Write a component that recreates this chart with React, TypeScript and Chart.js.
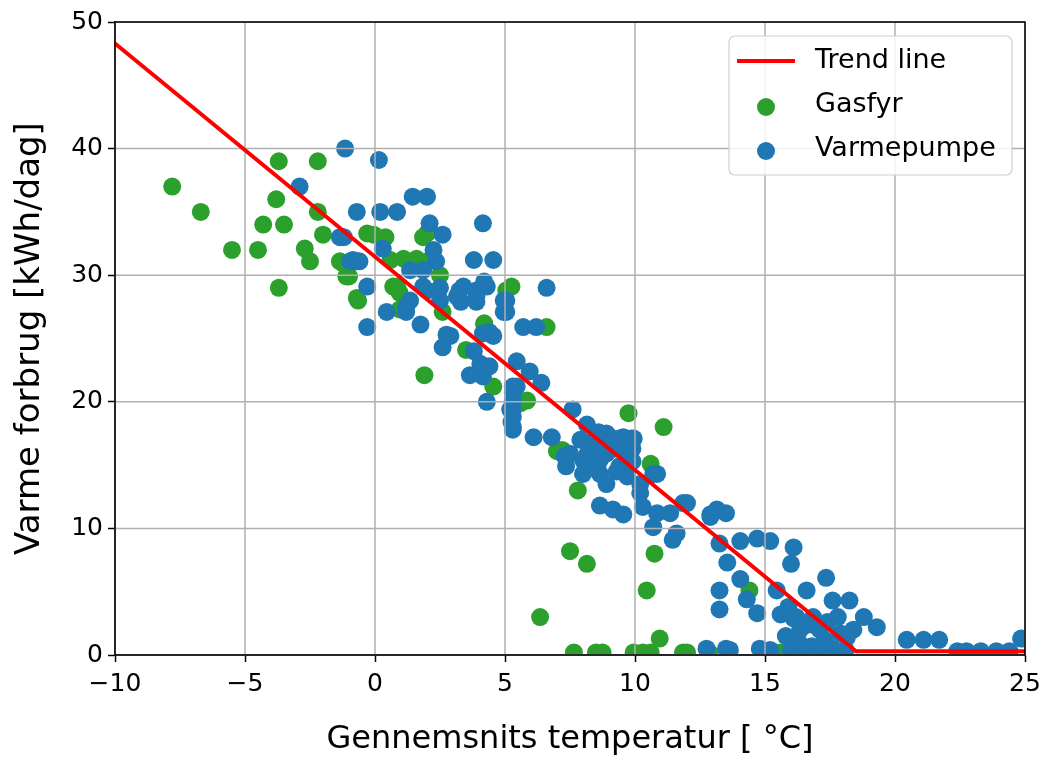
import { useEffect, useRef } from 'react';
import { Chart, registerables } from 'chart.js';

Chart.register(...registerables);

const FONT = "'DejaVu Sans', sans-serif";

const xTicks = [-10, -5, 0, 5, 10, 15, 20, 25];
const yTicks = [0, 10, 20, 30, 40, 50];
const legendLabels = ['Trend line', 'Gasfyr', 'Varmepumpe'];
const xTitle = 'Gennemsnits temperatur [ °C]';
const yTitle = 'Varme forbrug [kWh/dag]';

const trendTemp = [-10, 18.5, 25];
const trendUsage = [48.3, 0.3, 0.3];

const gasfyrTemp = [
  -7.8, -6.7, -5.5, -4.5, -4.3, -3.5, -3.8, -3.7, -2.2, -3.7, -2.7, -2.5, -2.2, -2.0, -1.2, -1.0,
  -0.65, -0.05, -0.3, 0.4, 0.85, 0.95, -1.35, 0.6, 1.1, 1.6, 2.1, 0.7, 0.95, -0.7, 2.6, 4.2,
  5.05, -1.1, 2.0, 1.85, 5.25, 4.2, 3.5, 4.55, 5.6, 5.85, 11.1, 9.75, 7.0, 1.9, 10.6, 7.8,
  7.2, 10.75, 7.5, 8.15, 10.45, 6.35, 10.95, 6.6, 14.4, 2.5,
  7.65, 8.5, 8.75, 9.95, 10.3, 11.85, 12.85, 12.0, 15.6, 10.6,
];
const gasfyrUsage = [
  37, 35, 32, 32, 34, 34, 36, 39, 39, 29, 32.1, 31.1, 35, 33.2, 30.9, 29.9,
  28, 33.2, 33.3, 33, 29.1, 27.3, 31.1, 31.2, 31.3, 31.3, 31.2, 29.1, 28.6, 28.2, 27.1, 26.1,
  28.8, 29.9, 33.3, 33, 29.1, 26.2, 24.1, 21.2, 19.9, 20.1, 18, 19.1, 16.1, 22.1, 15.1, 13,
  16.2, 8, 8.2, 7.2, 5.1, 3.0, 1.3, 25.9, 5.1, 30,
  0.2, 0.2, 0.2, 0.2, 0.2, 0.2, 0.2, 0.2, 0.2, 0.2,
];

const varmepumpeTemp = [
  -1.15, 0.15, -2.9, -0.7, 0.2, 0.85, 1.45, 2.0, 2.1, 2.6, 4.15, -1.35, 0.3, -0.85, 2.25, 2.35,
  3.8, 4.55, 1.35, 1.85, -0.3, 3.4, 4.3, 2.0, 1.35, 2.5, 3.15, 3.9, 0.45, 1.2, -0.3, 1.75,
  2.75, 4.4, 4.95, -1.2, -0.7, -0.95, -0.6, 1.2, 1.85, 2.5, 3.25, 3.9, 4.95, 6.6, 3.3, 3.9,
  5.05, 5.05, 5.7, 6.2, 4.15, 4.55, 2.9, 2.6, 3.8, 4.05, 4.4, 5.45, 5.95, 6.4, 3.65, 4.15,
  5.45, 4.3, 5.3, 5.25, 5.3, 5.3, 5.3, 6.1, 6.8, 7.6, 8.15, 9.05, 9.55, 9.85, 8.9, 9.4,
  7.5, 8.15, 8.9, 9.7, 7.35, 8.0, 8.65, 9.4, 9.7, 10.2, 10.7, 10.85, 8.9, 8.65, 9.15, 9.55,
  10.2, 10.3, 10.85, 11.35, 11.85, 10.7, 11.6, 11.45, 12.9, 13.15, 13.5, 14.05, 14.7, 15.2, 16.1, 16.0,
  13.55, 14.05, 13.25, 13.25, 14.3, 14.7, 15.6, 16.1, 13.65, 15.2, 12.0, 12.9, 13.25, 17.35, 16.6, 15.45,
  16.2, 16.85, 17.6, 18.25, 16.35, 17.1, 17.9, 18.4, 12.75, 13.5, 14.8, 18.8, 19.3, 18.15, 20.45, 21.1,
  21.7, 22.4, 22.75, 23.3, 23.9, 24.4, 24.85, 7.3, 8.0, 8.65, 5.3, 5.3, 5.2, 5.3, 9.95,
  8.5, 9.2, 9.6, 8.3, 9.9, 9.9, 9.3, 8.4, 7.9, 8.6,
  15.8, 16.3, 16.8, 17.3, 17.6, 18.1, 16.0, 16.5, 17.0, 17.4, 15.9, 16.7, 17.8, 4.2,
];
const varmepumpeUsage = [
  40, 39.1, 37, 35, 35, 35, 36.2, 36.2, 34.1, 33.2, 34.1, 33, 32.1, 31.2, 32, 31.1,
  31.2, 31.2, 30.4, 30.4, 29.1, 29.1, 29.1, 28.8, 28, 28, 28.3, 28.3, 27.1, 27.1, 25.9, 26.1,
  25.3, 25.5, 28, 33, 31.1, 31.1, 31.1, 27.5, 29.1, 29, 28.8, 28.8, 27.1, 29, 27.9, 27.9,
  28, 27.1, 25.9, 25.9, 25.4, 25.2, 25.2, 24.3, 24, 23, 22.8, 23.2, 22.4, 21.5, 22.1, 22,
  21.2, 20, 19.4, 18.4, 17.8, 21.2, 20.1, 17.2, 17.2, 19.4, 18.2, 17.2, 17.2, 17.1, 17.5, 17.1,
  15.9, 15.8, 15.9, 15.9, 14.9, 14.3, 14.3, 14.9, 14.1, 13.5, 14.3, 14.3, 13.5, 11.8, 11.5, 11.1,
  12.8, 11.7, 11.2, 11.2, 12, 10.1, 9.6, 9.1, 10.9, 11.5, 11.2, 9, 9.2, 9, 8.5, 7.2,
  7.3, 6.0, 5.1, 3.6, 4.4, 3.3, 3.2, 2.9, 0.4, 0.4, 12, 11.1, 8.8, 6.1, 5.1, 5.1,
  3.0, 3.0, 4.3, 4.3, 2.0, 2.0, 1.7, 2.0, 0.5, 0.5, 0.5, 3, 2.2, 1.4, 1.2, 1.2,
  1.2, 0.3, 0.3, 0.3, 0.3, 0.3, 1.3, 15.7, 15.4, 15.4, 18.8, 18.0, 19.4, 20.7, 17.1,
  16.5, 16.3, 16.5, 16.8, 16.3, 15.3, 14.5, 15, 17, 17.6,
  1.5, 1.0, 0.7, 1.2, 0.5, 0.4, 0.4, 0.3, 0.3, 2.6, 3.8, 2.4, 3.0, 29.5,
];

const GREEN = '#2ca02c';
const BLUE = '#1f77b4';
const RED = '#ff0000';

function toPoints(xs: number[], ys: number[]) {
  return xs.map((x, i) => ({ x, y: ys[i] }));
}

const gridPlugin = {
  id: 'mplGrid',
  afterDatasetDraw(chart: any, args: any) {
    if (args.index !== 1) return;
    const { ctx, chartArea, scales } = chart;
    ctx.save();
    ctx.strokeStyle = '#b0b0b0';
    ctx.lineWidth = 1.5;
    ctx.beginPath();
    xTicks.forEach((v) => {
      const px = scales.x.getPixelForValue(v);
      ctx.moveTo(px, chartArea.top);
      ctx.lineTo(px, chartArea.bottom);
    });
    yTicks.forEach((v) => {
      const py = scales.y.getPixelForValue(v);
      ctx.moveTo(chartArea.left, py);
      ctx.lineTo(chartArea.right, py);
    });
    ctx.stroke();
    ctx.restore();
  },
};

const framePlugin = {
  id: 'mplFrame',
  afterDraw(chart: any) {
    const { ctx, chartArea } = chart;
    ctx.save();
    ctx.strokeStyle = '#000';
    ctx.lineWidth = 1.5;
    ctx.strokeRect(chartArea.left, chartArea.top, chartArea.right - chartArea.left, chartArea.bottom - chartArea.top);
    // legend
    const bx = 729, by = 36, bw = 283, bh = 139, r = 6;
    ctx.beginPath();
    ctx.moveTo(bx + r, by);
    ctx.arcTo(bx + bw, by, bx + bw, by + bh, r);
    ctx.arcTo(bx + bw, by + bh, bx, by + bh, r);
    ctx.arcTo(bx, by + bh, bx, by, r);
    ctx.arcTo(bx, by, bx + bw, by, r);
    ctx.closePath();
    ctx.fillStyle = 'rgba(255,255,255,0.85)';
    ctx.fill();
    ctx.strokeStyle = '#d0d0d0';
    ctx.lineWidth = 1.2;
    ctx.stroke();

    ctx.strokeStyle = RED;
    ctx.lineWidth = 4;
    ctx.beginPath();
    ctx.moveTo(737, 61);
    ctx.lineTo(795, 61);
    ctx.stroke();

    ctx.fillStyle = GREEN;
    ctx.beginPath();
    ctx.arc(766, 107, 9, 0, Math.PI * 2);
    ctx.fill();
    ctx.fillStyle = BLUE;
    ctx.beginPath();
    ctx.arc(766, 151, 9, 0, Math.PI * 2);
    ctx.fill();

    ctx.fillStyle = '#000';
    ctx.font = `27px ${FONT}`;
    ctx.textAlign = 'left';
    ctx.textBaseline = 'middle';
    ctx.fillText(legendLabels[0], 815, 61);
    ctx.fillText(legendLabels[1], 815, 105);
    ctx.fillText(legendLabels[2], 815, 149);
    ctx.restore();
  },
};

export default function App() {
  const ref = useRef<HTMLCanvasElement | null>(null);

  useEffect(() => {
    document.body.style.margin = '0';
    if (!ref.current) return;
    const chart = new Chart(ref.current, {
      type: 'scatter',
      data: {
        datasets: [
          {
            label: legendLabels[0],
            data: toPoints(trendTemp, trendUsage),
            showLine: true,
            borderColor: RED,
            borderWidth: 4,
            pointRadius: 0,
            fill: false,
            clip: 0,
          } as any,
          {
            label: legendLabels[2],
            data: toPoints(varmepumpeTemp, varmepumpeUsage),
            backgroundColor: BLUE,
            borderWidth: 0,
            pointRadius: 9,
            clip: 0,
          },
          {
            label: legendLabels[1],
            data: toPoints(gasfyrTemp, gasfyrUsage),
            backgroundColor: GREEN,
            borderWidth: 0,
            pointRadius: 9,
            clip: 0,
          },
        ],
      },
      options: {
        animation: false,
        responsive: false,
        events: [],
        layout: { padding: { top: 22, right: 17, left: 0, bottom: 0 } },
        plugins: { legend: { display: false }, tooltip: { enabled: false } },
        scales: {
          x: {
            type: 'linear',
            min: -10,
            max: 25,
            afterBuildTicks: (s: any) => {
              s.ticks = xTicks.map((v) => ({ value: v }));
            },
            afterFit: (s: any) => {
              s.height = 105;
              s.paddingLeft = 0;
              s.paddingRight = 0;
            },
            ticks: {
              color: '#000',
              padding: 7,
              maxRotation: 0,
              font: { size: 25, family: FONT },
              callback: (v: any) => String(v).replace('-', '\u2212'),
            },
            grid: { color: 'rgba(0,0,0,0)', tickColor: '#000', tickLength: 7, tickWidth: 1.5 },
            border: { display: true, color: '#000', width: 1.5 },
            title: {
              display: true,
              text: xTitle,
              color: '#000',
              font: { size: 32, family: FONT },
              padding: { top: 0, bottom: 1 },
            },
          },
          y: {
            type: 'linear',
            min: 0,
            max: 50,
            afterBuildTicks: (s: any) => {
              s.ticks = yTicks.map((v) => ({ value: v }));
            },
            afterFit: (s: any) => {
              s.width = 115;
              s.paddingTop = 0;
              s.paddingBottom = 0;
            },
            ticks: {
              color: '#000',
              padding: 5,
              font: { size: 25, family: FONT },
              callback: (v: any) => String(v).replace('-', '\u2212'),
            },
            grid: { color: 'rgba(0,0,0,0)', tickColor: '#000', tickLength: 7, tickWidth: 1.5 },
            border: { display: true, color: '#000', width: 1.5 },
            title: {
              display: true,
              text: yTitle,
              color: '#000',
              font: { size: 34, family: FONT },
              padding: { top: 10, bottom: 0 },
            },
          },
        },
      },
      plugins: [gridPlugin, framePlugin],
    });
    return () => chart.destroy();
  }, []);

  return <canvas ref={ref} width={1042} height={760} style={{ display: 'block' }} />;
}
